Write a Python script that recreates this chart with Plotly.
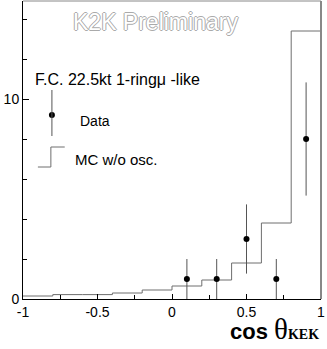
import plotly.graph_objects as go

# MC w/o oscillation histogram (bins of 0.2 in cos theta)
mc_edges = [-1.0, -0.8, -0.6, -0.4, -0.2, 0.0, 0.2, 0.4, 0.6, 0.8, 1.0]
mc_counts = [0.15, 0.22, 0.22, 0.3, 0.45, 0.65, 0.95, 1.8, 3.8, 13.4]

# data points
data_x = [0.1, 0.3, 0.5, 0.7, 0.9]
data_y = [1, 1, 3, 1, 8]
data_err = [1.0, 1.0, 1.73, 1.0, 2.83]

# tick labels
x_ticks = [-1, -0.5, 0, 0.5, 1]
x_labels = ["-1", "-0.5", "0", "0.5", "1"]
y_ticks = [0, 10]
y_labels = ["0", "10"]

FONT = "Liberation Sans, Arial, sans-serif"

fig = go.Figure()

fig.add_trace(go.Scatter(
    x=mc_edges,
    y=mc_counts + [mc_counts[-1]],
    mode="lines",
    line=dict(shape="hv", color="#6e6e6e", width=1),
    hoverinfo="skip",
    showlegend=False,
))

fig.add_trace(go.Scatter(
    x=data_x,
    y=data_y,
    mode="markers",
    marker=dict(color="black", size=6),
    error_y=dict(type="data", array=data_err, visible=True,
                 color="#555555", thickness=1, width=0),
    showlegend=False,
))

# legend drawn by hand, like the original
fig.add_shape(type="line", x0=-0.806, x1=-0.806, y0=8.15, y1=10.45,
              line=dict(color="#555555", width=1))
fig.add_trace(go.Scatter(x=[-0.806], y=[9.2], mode="markers",
                         marker=dict(color="black", size=6),
                         showlegend=False, hoverinfo="skip"))
fig.add_shape(type="path", path="M -0.9,6.6 L -0.813,6.6 L -0.813,7.6 L -0.72,7.6",
              line=dict(color="#6e6e6e", width=1))

fig.add_annotation(x=-0.632, y=8.9, text="Data", showarrow=False,
                   xanchor="left", font=dict(family=FONT, size=14, color="black"))
fig.add_annotation(x=-0.666, y=7.0, text="MC w/o osc.", showarrow=False,
                   xanchor="left", font=dict(family=FONT, size=15, color="black"))
fig.add_annotation(x=-0.93, y=11.0, text="F.C. 22.5kt 1-ringμ -like", showarrow=False,
                   xanchor="left", font=dict(family=FONT, size=16, color="black"))

fig.add_annotation(x=-0.11, y=13.85, text="K2K Preliminary", showarrow=False,
                   font=dict(family=FONT, size=23, color="white",
                             shadow="1px 0 0 #aaa, -1px 0 0 #aaa, 0 1px 0 #aaa, 0 -1px 0 #aaa"))

# axis title
fig.add_annotation(
    xref="paper", yref="paper", x=1.0, y=-0.1, xanchor="right", yanchor="middle",
    showarrow=False,
    text=("<b>cos</b> <span style='font-family:Liberation Serif;font-size:29px'>θ</span>"
          "<span style='font-family:Liberation Serif;font-size:14px'><b>KEK</b></span>"),
    font=dict(family=FONT, size=22, color="black"),
)

# top and right frame (grey in the original)
fig.add_shape(type="line", xref="paper", yref="paper", x0=0, x1=1, y0=1, y1=1,
              line=dict(color="#888888", width=1))
fig.add_shape(type="line", xref="paper", yref="paper", x0=1, x1=1, y0=0, y1=1,
              line=dict(color="#888888", width=2))

fig.update_xaxes(
    range=[-1, 1], showgrid=False, zeroline=False, automargin=False,
    showline=True, linecolor="black", linewidth=1,
    tickmode="array", tickvals=x_ticks, ticktext=x_labels,
    ticks="inside", ticklen=5, tickcolor="black",
    minor=dict(ticks="inside", ticklen=4, tickmode="linear", tick0=-1, dtick=0.25,
               tickcolor="black", showgrid=False),
    tickfont=dict(family=FONT, size=14, color="black"),
)
fig.update_yaxes(
    range=[0, 14.9], showgrid=False, zeroline=False, automargin=False,
    showline=True, linecolor="black", linewidth=1,
    tickmode="array", tickvals=y_ticks, ticktext=y_labels,
    ticks="inside", ticklen=6, tickcolor="black",
    minor=dict(ticks="inside", ticklen=4, tickmode="linear", tick0=0, dtick=2,
               tickcolor="black", showgrid=False),
    tickfont=dict(family=FONT, size=14, color="black"),
)

fig.update_layout(
    width=327, height=349,
    margin=dict(l=23, r=6, t=1, b=50),
    plot_bgcolor="white", paper_bgcolor="white",
    showlegend=False,
)

# page body has an 8px margin by default, drop it so the figure fills the window
fig.write_html("out.html", config={"displayModeBar": False},
               post_script="document.body.style.margin = '0';")
